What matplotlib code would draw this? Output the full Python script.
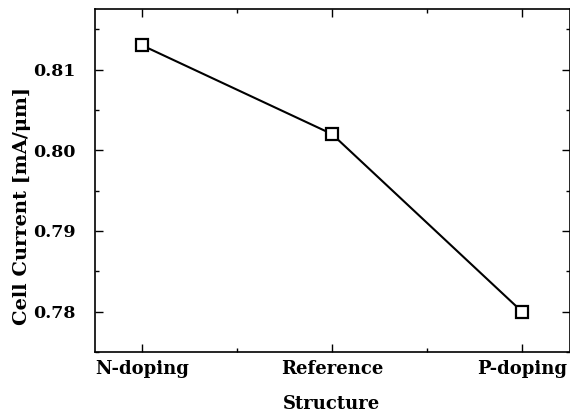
import matplotlib
matplotlib.use("Agg")
import matplotlib.pyplot as plt
from matplotlib.ticker import MultipleLocator

categories = ["N-doping", "Reference", "P-doping"]
cell_current = [0.813, 0.802, 0.780]

plt.rcParams['font.family'] = ['DejaVu Serif']
plt.rcParams['font.weight'] = 'bold'

fig = plt.figure(figsize=(5.7, 4.16), dpi=100)
ax = fig.add_axes([94.5/570, 1 - 352/416, (569.5 - 94.5)/570, (352 - 8.5)/416])

x = list(range(len(categories)))
ax.plot(x, cell_current, color='black', linewidth=1.5, marker='s', markersize=8,
        markerfacecolor='white', markeredgecolor='black', markeredgewidth=1.6)

ax.set_xlim(-0.25, 2.25)
ax.set_ylim(0.775, 0.81756)
ax.set_xticks(x)
ax.set_xticklabels(categories)
ax.xaxis.set_minor_locator(MultipleLocator(0.5))
ax.yaxis.set_major_locator(MultipleLocator(0.01))
ax.yaxis.set_minor_locator(MultipleLocator(0.005))
ax.yaxis.set_major_formatter(matplotlib.ticker.FormatStrFormatter('%.2f'))

ax.tick_params(which='both', direction='in', top=True, right=True, width=1)
ax.tick_params(which='major', length=6)
ax.tick_params(axis='x', which='major', pad=6, labelsize=13)
ax.tick_params(axis='y', which='major', pad=13.5, labelsize=12.5)
ax.tick_params(which='minor', length=3)
for s in ax.spines.values():
    s.set_linewidth(1.2)

ax.set_xlabel('Structure', fontsize=13, fontweight='bold', labelpad=12)
ax.set_ylabel('Cell Current [mA/\u03bcm]', fontsize=14, fontweight='bold')
ax.yaxis.set_label_coords((31 - 94.5) / 475, 1 - (206 - 8.5) / 343.5)

fig.savefig('out.png', dpi=100)
